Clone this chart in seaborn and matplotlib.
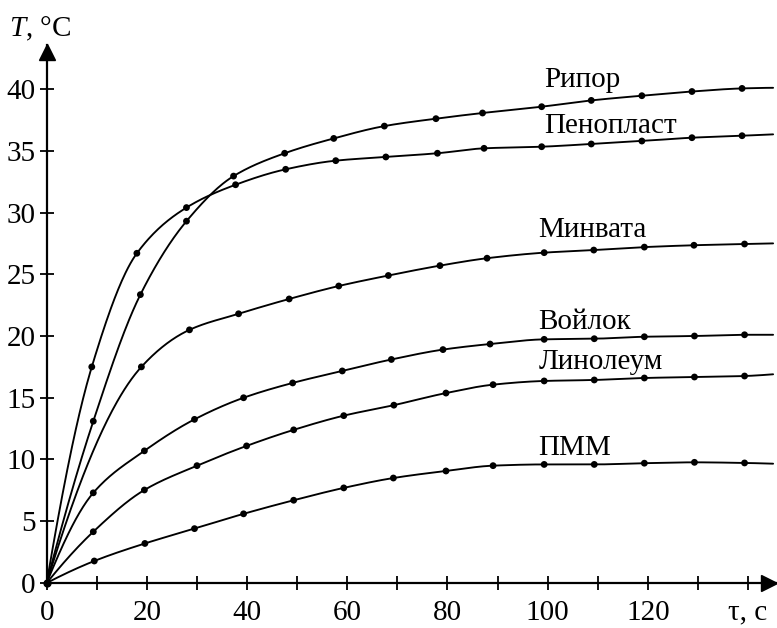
import numpy as np
import pandas as pd
import matplotlib
matplotlib.use("Agg")
import matplotlib.pyplot as plt
import seaborn as sns

# ---- data ----
names = ["Рипор", "Пенопласт", "Минвата", "Войлок", "Линолеум", "ПММ"]

ripor_x = [9.3, 18.7, 27.9, 37.3, 47.5, 57.3, 67.4, 77.7, 87.0, 98.8, 108.7, 118.8, 128.8, 138.8]
ripor_y = [13.1, 23.35, 29.3, 32.95, 34.8, 36.0, 37.0, 37.6, 38.06, 38.57, 39.08, 39.46, 39.8, 40.05]

penoplast_x = [9.0, 18.0, 27.9, 37.7, 47.7, 57.7, 67.7, 78.0, 87.3, 98.8, 108.7, 118.8, 128.8, 138.8]
penoplast_y = [17.5, 26.7, 30.4, 32.25, 33.5, 34.2, 34.5, 34.8, 35.2, 35.33, 35.55, 35.79, 36.06, 36.22]

minvata_x = [18.9, 28.5, 38.3, 48.4, 58.3, 68.2, 78.5, 87.9, 99.3, 109.2, 119.3, 129.2, 139.3]
minvata_y = [17.5, 20.5, 21.8, 23.0, 24.05, 24.9, 25.7, 26.3, 26.75, 26.96, 27.2, 27.35, 27.45]

voilok_x = [9.3, 19.5, 29.5, 39.3, 49.1, 59.0, 68.8, 79.1, 88.5, 99.3, 109.3, 119.3, 129.3, 139.3]
voilok_y = [7.3, 10.7, 13.25, 15.0, 16.2, 17.17, 18.1, 18.9, 19.35, 19.73, 19.78, 19.94, 20.0, 20.1]

linoleum_x = [9.3, 19.5, 30.0, 39.9, 49.3, 59.3, 69.3, 79.7, 89.1, 99.3, 109.3, 119.3, 129.3, 139.3]
linoleum_y = [4.15, 7.53, 9.5, 11.1, 12.4, 13.55, 14.4, 15.38, 16.06, 16.36, 16.44, 16.6, 16.68, 16.76]

pmm_x = [9.5, 19.6, 29.5, 39.3, 49.3, 59.3, 69.2, 79.7, 89.1, 99.3, 109.3, 119.3, 129.3, 139.3]
pmm_y = [1.78, 3.2, 4.4, 5.6, 6.7, 7.7, 8.5, 9.07, 9.5, 9.6, 9.6, 9.7, 9.77, 9.72]

# where each drawn curve ends on the right
line_end_x = 145.0
line_end_y = [40.1, 36.33, 27.5, 20.1, 16.9, 9.66]

# label anchor positions (data coordinates)
label_x = [106.9, 112.6, 109.0, 107.3, 110.6, 105.3]
label_y = [40.2, 36.4, 28.0, 20.6, 17.3, 10.36]

x_ticks = list(range(0, 150, 10))
x_tick_labels = ["0", "", "20", "", "40", "", "60", "", "80", "", "100", "", "120", "", "τ, с"]
y_ticks = list(range(0, 45, 5))
y_tick_labels = [str(v) for v in y_ticks]

series_x = [ripor_x, penoplast_x, minvata_x, voilok_x, linoleum_x, pmm_x]
series_y = [ripor_y, penoplast_y, minvata_y, voilok_y, linoleum_y, pmm_y]


def pchip(xk, yk, xs):
    xk = np.asarray(xk, float)
    yk = np.asarray(yk, float)
    h = np.diff(xk)
    d = np.diff(yk) / h
    n = len(xk)
    m = np.zeros(n)
    for k in range(1, n - 1):
        if d[k - 1] * d[k] <= 0:
            m[k] = 0.0
        else:
            w1 = 2 * h[k] + h[k - 1]
            w2 = h[k] + 2 * h[k - 1]
            m[k] = (w1 + w2) / (w1 / d[k - 1] + w2 / d[k])

    def endslope(h0, h1, d0, d1):
        s = ((2 * h0 + h1) * d0 - h0 * d1) / (h0 + h1)
        if np.sign(s) != np.sign(d0):
            s = 0.0
        elif np.sign(d0) != np.sign(d1) and abs(s) > abs(3 * d0):
            s = 3 * d0
        return s

    m[0] = endslope(h[0], h[1], d[0], d[1])
    m[-1] = endslope(h[-1], h[-2], d[-1], d[-2])
    idx = np.clip(np.searchsorted(xk, xs) - 1, 0, n - 2)
    t = (xs - xk[idx]) / h[idx]
    h00 = 2 * t**3 - 3 * t**2 + 1
    h10 = t**3 - 2 * t**2 + t
    h01 = -2 * t**3 + 3 * t**2
    h11 = t**3 - t**2
    return (h00 * yk[idx] + h10 * h[idx] * m[idx]
            + h01 * yk[idx + 1] + h11 * h[idx] * m[idx + 1])


sns.set_theme(style="white")
plt.rcParams["font.family"] = ["Liberation Serif", "DejaVu Serif"]
plt.rcParams["mathtext.fontset"] = "custom"
plt.rcParams["mathtext.rm"] = "Liberation Serif"
plt.rcParams["mathtext.it"] = "Liberation Serif:italic"

fig = plt.figure(figsize=(7.77, 6.28), dpi=100)
ax = fig.add_axes([0.0601, 0.0717, 0.9394, 0.929 - 0.0717])

pts_rows = []
line_rows = []
for name, xs_, ys_, ye in zip(names, series_x, series_y, line_end_y):
    for a, b in zip(xs_, ys_):
        pts_rows.append({"series": name, "t": a, "T": b})
    kx = [0.0] + list(xs_) + [line_end_x]
    ky = [0.0] + list(ys_) + [ye]
    fine = np.linspace(0, line_end_x, 600)
    for a, b in zip(fine, pchip(kx, ky, fine)):
        line_rows.append({"series": name, "t": a, "T": b})

pts = pd.DataFrame(pts_rows)
lines = pd.DataFrame(line_rows)
pal = {n: "black" for n in names}

sns.lineplot(data=lines, x="t", y="T", hue="series", palette=pal, legend=False,
             sort=False, estimator=None, linewidth=1.35, ax=ax)
sns.scatterplot(data=pts, x="t", y="T", hue="series", palette=pal, legend=False,
                s=24, edgecolor="black", linewidth=0, ax=ax, zorder=5)
ax.scatter([0], [0], s=24, color="black", zorder=6, clip_on=False)

for name, lx, ly in zip(names, label_x, label_y):
    ax.text(lx, ly, name, ha="center", va="baseline", fontsize=21, color="black")

ax.set_xlim(0, 145.7)
ax.set_ylim(0, 43.6)
ax.set_xticks(x_ticks)
ax.set_xticklabels(x_tick_labels)
ax.set_yticks(y_ticks)
ax.set_yticklabels(y_tick_labels)
ax.set_xlabel("")
ax.set_ylabel("")
ax.tick_params(axis="both", direction="inout", length=10, width=1.3,
               labelsize=21, colors="black", bottom=True, left=True)
ax.tick_params(axis="x", pad=7)
ax.tick_params(axis="y", pad=3)

for side in ["top", "right"]:
    ax.spines[side].set_visible(False)
for side in ["left", "bottom"]:
    ax.spines[side].set_linewidth(1.6)
    ax.spines[side].set_color("black")

# arrow heads (tips at the ends of the axes)
ax.plot(144.2, 0, marker=">", color="black", markersize=11, clip_on=False, zorder=7)
ax.plot(0, 43.0, marker="^", color="black", markersize=11, clip_on=False, zorder=7)

fig.text(9 / 777, 1 - 36 / 628, r"$\mathit{T}$, °C", fontsize=21, ha="left",
         va="baseline", color="black")

fig.savefig("out.png", dpi=100)
